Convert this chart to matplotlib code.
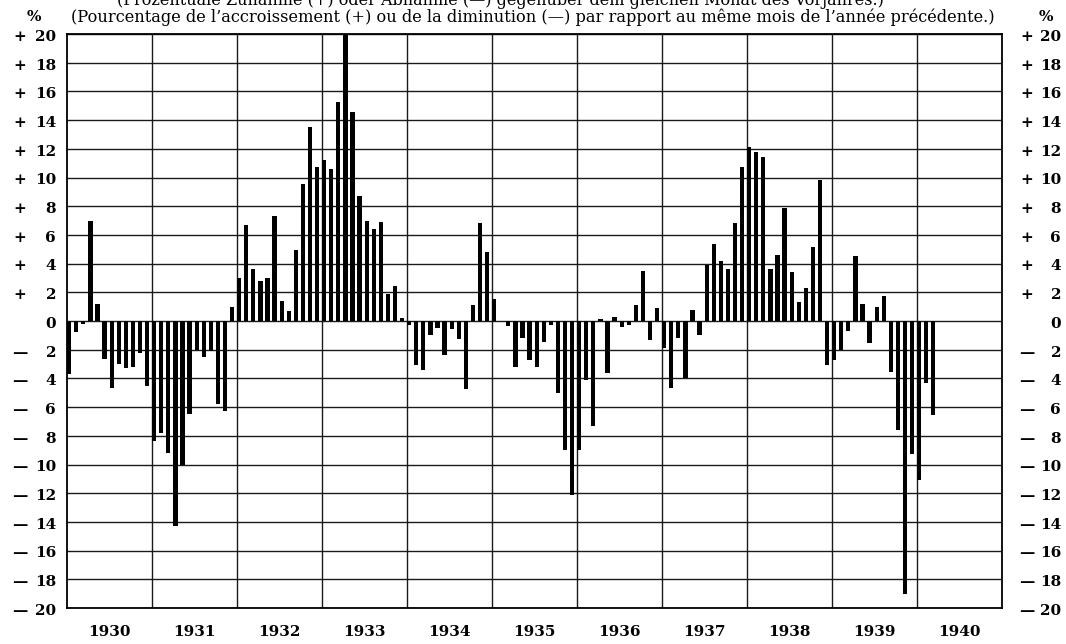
import numpy as np
import matplotlib.pyplot as plt
from matplotlib.transforms import blended_transform_factory

# Monatliche Veränderung gegenüber dem Vorjahresmonat (%)
years = list(range(1930, 1941))
vals_1930 = [-3.7, -0.8, -0.2, 7.0, 1.2, -2.65, -4.7, -3.0, -3.3, -3.2, -2.2, -4.5]
vals_1931 = [-8.35, -7.8, -9.2, -14.3, -10.0, -6.5, -2.0, -2.5, -2.1, -5.8, -6.3, 1.0]
vals_1932 = [3.0, 6.7, 3.6, 2.8, 3.0, 7.35, 1.4, 0.7, 4.95, 9.55, 13.5, 10.75]
vals_1933 = [11.2, 10.6, 15.25, 20.0, 14.55, 8.7, 7.0, 6.4, 6.9, 1.85, 2.45, 0.2]
vals_1934 = [-0.3, -3.1, -3.4, -1.0, -0.5, -2.4, -0.55, -1.25, -4.75, 1.1, 6.8, 4.8]
vals_1935 = [1.5, 0.0, -0.35, -3.2, -1.15, -2.75, -3.2, -1.45, -0.3, -5.05, -9.0, -12.1]
vals_1936 = [-9.0, -4.1, -7.3, 0.15, -3.6, 0.3, -0.4, -0.25, 1.1, 3.5, -1.3, 0.9]
vals_1937 = [-1.85, -4.7, -1.2, -3.95, 0.8, -1.0, 3.9, 5.4, 4.2, 3.6, 6.85, 10.7]
vals_1938 = [12.15, 11.8, 11.45, 3.65, 4.6, 7.9, 3.4, 1.3, 2.3, 5.15, 9.85, -3.1]
vals_1939 = [-2.7, -2.05, -0.7, 4.55, 1.15, -1.5, 1.0, 1.75, -3.55, -7.6, -19.0, -9.3]
vals_1940 = [-11.05, -4.35, -6.55]

y_ticks = list(range(-20, 21, 2))

title_de = "(Prozentuale Zunahme (+) oder Abnahme (—) gegenüber dem gleichen Monat des Vorjahres.)"
title_fr = "(Pourcentage de l’accroissement (+) ou de la diminution (—) par rapport au même mois de l’année précédente.)"

monthly = (vals_1930 + vals_1931 + vals_1932 + vals_1933 + vals_1934 + vals_1935
           + vals_1936 + vals_1937 + vals_1938 + vals_1939 + vals_1940)
x = np.arange(len(monthly)) + 0.3

W, H = 1066, 644
fig = plt.figure(figsize=(W / 100, H / 100), dpi=100)
ax = fig.add_axes([67 / W, 1 - 608 / H, (1002 - 67) / W, (608 - 34) / H])

ax.bar(x, monthly, width=0.6, color="black", zorder=3)

n_months = 12 * len(years)
ax.set_xlim(0, n_months)
ax.set_ylim(-20, 20)
for k in range(1, len(years)):
    ax.axvline(12 * k, color="#1a1a1a", lw=1.0, zorder=1)
for t in y_ticks:
    ax.axhline(t, color="#1a1a1a", lw=1.0, zorder=1)
for s in ax.spines.values():
    s.set_linewidth(1.3)
    s.set_color("black")
ax.set_xticks([])
ax.set_yticks([])

serif = "DejaVu Serif"
lab = dict(family=serif, weight="bold", fontsize=11, color="black")

# Jahreszahlen unter der Achse
tr_x = blended_transform_factory(ax.transData, fig.transFigure)
for i, yr in enumerate(years):
    ax.text(12 * i + 6, 1 - 632 / H, str(yr), transform=tr_x,
            ha="center", va="center", **lab)

# Skalen links und rechts
tr_y = blended_transform_factory(fig.transFigure, ax.transData)
for t in y_ticks:
    num = str(abs(t))
    sign = "+" if t > 0 else ("—" if t < 0 else "")
    ax.text(56 / W, t - 0.2, num, transform=tr_y, ha="right", va="center", **lab)
    ax.text(1061 / W, t - 0.2, num, transform=tr_y, ha="right", va="center", **lab)
    if sign:
        ax.text(20 / W, t - 0.2, sign, transform=tr_y, ha="center", va="center", **lab)
        ax.text(1027 / W, t - 0.2, sign, transform=tr_y, ha="center", va="center", **lab)

fig.text(34 / W, 1 - 17 / H, "%", ha="center", va="center", **lab)
fig.text(1046 / W, 1 - 17 / H, "%", ha="center", va="center", **lab)

# obere Zeile ist im Original angeschnitten
fig.text(500 / W, 1 - 5 / H, title_de, ha="center", va="baseline",
         family=serif, fontsize=11.5, color="black")
fig.text(533 / W, 1 - 17 / H, title_fr, ha="center", va="center",
         family=serif, fontsize=11.7, color="black")

fig.savefig("out.png", dpi=100)
